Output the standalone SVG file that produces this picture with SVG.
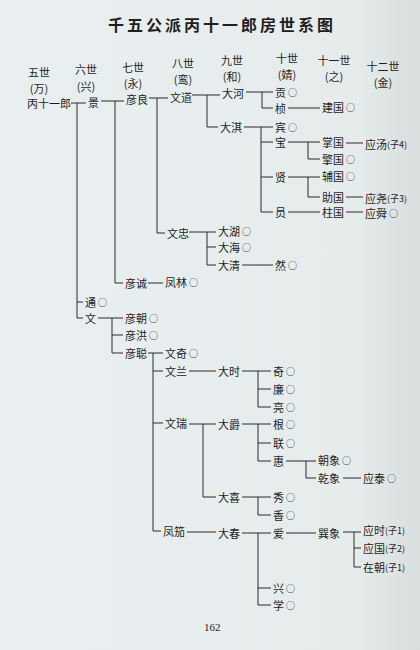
<svg xmlns="http://www.w3.org/2000/svg" width="420" height="650" viewBox="0 0 420 650">
<style>
text{font-family:"Noto Sans CJK SC","Noto Sans",sans-serif;fill:#1e1e1e;}
.n{font-size:11px;dominant-baseline:central;}
.h{font-size:11px;text-anchor:middle;dominant-baseline:central;}
.c{font-size:9px;}
.s{font-size:9px;}
.title{font-size:16px;font-weight:bold;text-anchor:middle;letter-spacing:3px;}
#connectors path{fill:none;stroke:#2a2a2a;stroke-width:1;}
</style>
<defs>
<linearGradient id="bg" x1="0" y1="0" x2="1" y2="0">
<stop offset="0" stop-color="#e9eff0"/>
<stop offset="0.85" stop-color="#e6ecec"/>
<stop offset="1" stop-color="#d8dede"/>
</linearGradient>
</defs>
<rect width="420" height="650" fill="url(#bg)"/>
<text class="title" x="222" y="31">千五公派丙十一郎房世系图</text>
<g id="headers">
<text class="h" x="39" y="72">五世</text><text class="h" x="39" y="88">(万)</text>
<text class="h" x="86" y="69">六世</text><text class="h" x="86" y="86">(兴)</text>
<text class="h" x="133" y="67">七世</text><text class="h" x="133" y="83">(永)</text>
<text class="h" x="183" y="63">八世</text><text class="h" x="183" y="79">(鸾)</text>
<text class="h" x="232" y="60">九世</text><text class="h" x="232" y="76">(和)</text>
<text class="h" x="287" y="58">十世</text><text class="h" x="287" y="74">(婧)</text>
<text class="h" x="334" y="60">十一世</text><text class="h" x="334" y="76">(之)</text>
<text class="h" x="383" y="66">十二世</text><text class="h" x="383" y="82">(金)</text>
</g>
<g id="connectors">
<path d="M71 103H86M77 103V318M77 302H83M77 318H83"/>
<path d="M101 101H124M115 101V283M115 283H123"/>
<path d="M149 98H168M157 98V233M157 233H165"/>
<path d="M192 95H220M207 95V127M207 127H218"/>
<path d="M246 92H273M262 92V108M262 108H273"/>
<path d="M288 108H320"/>
<path d="M244 127H273M261 127V212M261 142H273M261 177H273M261 212H273"/>
<path d="M288 142H320M308 142V159M308 159H320"/>
<path d="M346 143H363"/>
<path d="M288 177H320M308 177V197M308 197H320"/>
<path d="M346 197H363"/>
<path d="M288 212H320"/>
<path d="M346 212H363"/>
<path d="M189 232H216M207 232V265M207 247H216M207 265H216"/>
<path d="M242 265H273"/>
<path d="M148 283H163"/>
<path d="M98 318H123M112 318V353M112 335H123M112 353H123"/>
<path d="M148 353H163M153 353V531M153 371H163M153 423H163M153 531H161"/>
<path d="M189 371H216"/>
<path d="M242 371H271M258 371V407M258 389H271M258 407H271"/>
<path d="M189 424H216M203 424V497M203 497H216"/>
<path d="M242 424H271M258 424V461M258 443H271M258 461H271"/>
<path d="M286 461H316M306 461V478M306 478H316"/>
<path d="M343 478H361"/>
<path d="M242 497H271M258 497V515M258 515H271"/>
<path d="M187 532H216"/>
<path d="M242 533H271M258 533V605M258 588H271M258 605H271"/>
<path d="M286 533H316"/>
<path d="M343 532H361M354 532V567M354 548H361M354 567H361"/>
</g>
<g id="n1"><text class="n" x="27" y="103">丙十一郎</text></g>
<g id="n2"><text class="n" x="88" y="102">景</text></g>
<g id="n3"><text class="n" x="126" y="99">彦良</text></g>
<g id="n4"><text class="n" x="170" y="97">文道</text></g>
<g id="n5"><text class="n" x="222" y="93">大河</text></g>
<g id="n6"><text class="n" x="275" y="92">贡<tspan class="c" dx="2">○</tspan></text></g>
<g id="n7"><text class="n" x="275" y="108">桢</text></g>
<g id="n8"><text class="n" x="322" y="107">建国<tspan class="c" dx="2">○</tspan></text></g>
<g id="n9"><text class="n" x="220" y="127">大淇</text></g>
<g id="n10"><text class="n" x="275" y="127">宾<tspan class="c" dx="2">○</tspan></text></g>
<g id="n11"><text class="n" x="275" y="142">宝</text></g>
<g id="n12"><text class="n" x="322" y="142">掌国</text></g>
<g id="n13"><text class="n" x="365" y="144">应汤<tspan class="s">(子4)</tspan></text></g>
<g id="n14"><text class="n" x="322" y="159">擎国<tspan class="c" dx="2">○</tspan></text></g>
<g id="n15"><text class="n" x="275" y="177">贤</text></g>
<g id="n16"><text class="n" x="322" y="176">辅国<tspan class="c" dx="2">○</tspan></text></g>
<g id="n17"><text class="n" x="322" y="197">助国</text></g>
<g id="n18"><text class="n" x="365" y="198">应尧<tspan class="s">(子3)</tspan></text></g>
<g id="n19"><text class="n" x="275" y="212">员</text></g>
<g id="n20"><text class="n" x="322" y="212">柱国</text></g>
<g id="n21"><text class="n" x="365" y="213">应舜<tspan class="c" dx="2">○</tspan></text></g>
<g id="n22"><text class="n" x="167" y="233">文忠</text></g>
<g id="n23"><text class="n" x="218" y="231">大湖<tspan class="c" dx="2">○</tspan></text></g>
<g id="n24"><text class="n" x="218" y="247">大海<tspan class="c" dx="2">○</tspan></text></g>
<g id="n25"><text class="n" x="218" y="265">大清</text></g>
<g id="n26"><text class="n" x="275" y="265">然<tspan class="c" dx="2">○</tspan></text></g>
<g id="n27"><text class="n" x="125" y="283">彦诚</text></g>
<g id="n28"><text class="n" x="165" y="282">凤林<tspan class="c" dx="2">○</tspan></text></g>
<g id="n29"><text class="n" x="85" y="302">通<tspan class="c" dx="2">○</tspan></text></g>
<g id="n30"><text class="n" x="85" y="318">文</text></g>
<g id="n31"><text class="n" x="125" y="318">彦朝<tspan class="c" dx="2">○</tspan></text></g>
<g id="n32"><text class="n" x="125" y="335">彦洪<tspan class="c" dx="2">○</tspan></text></g>
<g id="n33"><text class="n" x="125" y="353">彦聪</text></g>
<g id="n34"><text class="n" x="165" y="353">文奇<tspan class="c" dx="2">○</tspan></text></g>
<g id="n35"><text class="n" x="165" y="371">文兰</text></g>
<g id="n36"><text class="n" x="218" y="371">大时</text></g>
<g id="n37"><text class="n" x="273" y="371">奇<tspan class="c" dx="2">○</tspan></text></g>
<g id="n38"><text class="n" x="273" y="389">廉<tspan class="c" dx="2">○</tspan></text></g>
<g id="n39"><text class="n" x="273" y="407">亮<tspan class="c" dx="2">○</tspan></text></g>
<g id="n40"><text class="n" x="165" y="423">文瑞</text></g>
<g id="n41"><text class="n" x="218" y="424">大爵</text></g>
<g id="n42"><text class="n" x="273" y="424">根<tspan class="c" dx="2">○</tspan></text></g>
<g id="n43"><text class="n" x="273" y="443">联<tspan class="c" dx="2">○</tspan></text></g>
<g id="n44"><text class="n" x="273" y="461">惠</text></g>
<g id="n45"><text class="n" x="318" y="460">朝象<tspan class="c" dx="2">○</tspan></text></g>
<g id="n46"><text class="n" x="318" y="478">乾象</text></g>
<g id="n47"><text class="n" x="363" y="478">应泰<tspan class="c" dx="2">○</tspan></text></g>
<g id="n48"><text class="n" x="218" y="497">大喜</text></g>
<g id="n49"><text class="n" x="273" y="497">秀<tspan class="c" dx="2">○</tspan></text></g>
<g id="n50"><text class="n" x="273" y="515">香<tspan class="c" dx="2">○</tspan></text></g>
<g id="n51"><text class="n" x="163" y="531">凤笳</text></g>
<g id="n52"><text class="n" x="218" y="533">大春</text></g>
<g id="n53"><text class="n" x="273" y="533">爱</text></g>
<g id="n54"><text class="n" x="273" y="588">兴<tspan class="c" dx="2">○</tspan></text></g>
<g id="n55"><text class="n" x="273" y="605">学<tspan class="c" dx="2">○</tspan></text></g>
<g id="n56"><text class="n" x="318" y="533">巽象</text></g>
<g id="n57"><text class="n" x="363" y="530">应时<tspan class="s">(子1)</tspan></text></g>
<g id="n58"><text class="n" x="363" y="548">应国<tspan class="s">(子2)</tspan></text></g>
<g id="n59"><text class="n" x="363" y="567">在朝<tspan class="s">(子1)</tspan></text></g>
<text x="204" y="631" style="font-family:'Liberation Serif',serif;font-size:11px;">162</text>
</svg>
